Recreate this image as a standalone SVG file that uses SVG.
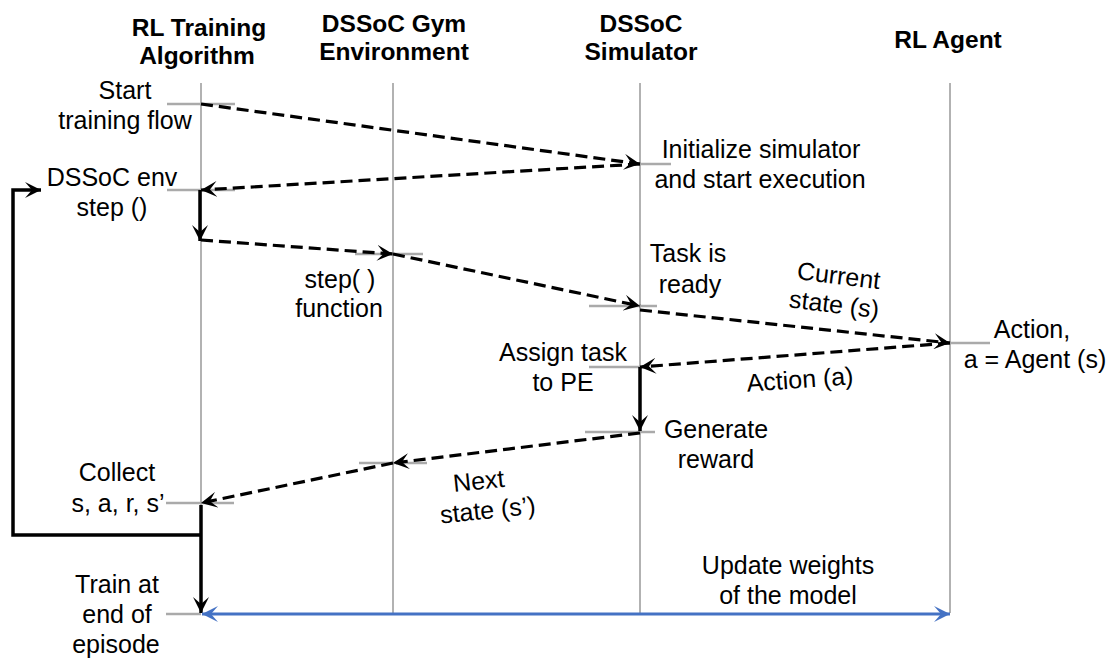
<svg xmlns="http://www.w3.org/2000/svg" width="1110" height="660" viewBox="0 0 1110 660">
<style>
text{font-family:"Liberation Sans",Arial,sans-serif;font-size:25px;fill:#000;text-anchor:middle}
.h{font-weight:bold;font-size:24.5px}
.life{stroke:#999;stroke-width:1.5;fill:none}
.tick{stroke:#aaa;stroke-width:2.5;fill:none}
.dash{stroke:#000;stroke-width:3.2;stroke-dasharray:12 6;fill:none;marker-end:url(#ah)}
.solid{stroke:#000;stroke-width:3.5;fill:none;marker-end:url(#ah)}
.blue{stroke:#4472C4;stroke-width:3;fill:none;marker-end:url(#bh);marker-start:url(#bh)}
</style>
<defs>
<marker id="ah" markerUnits="userSpaceOnUse" markerWidth="18" markerHeight="16" refX="16" refY="8" orient="auto" viewBox="0 0 18 16"><path d="M0,0 L16,8 L0,16 L7,8 z" fill="#000"/></marker>
<marker id="bh" markerUnits="userSpaceOnUse" markerWidth="18" markerHeight="16" refX="16" refY="8" orient="auto-start-reverse" viewBox="0 0 18 16"><path d="M0,0 L16,8 L0,16 L7,8 z" fill="#4472C4"/></marker>
</defs>
<g id="lifelines">
<line class="life" x1="201" y1="83" x2="201" y2="613"/>
<line class="life" x1="393" y1="83" x2="393" y2="613"/>
<line class="life" x1="640" y1="83" x2="640" y2="613"/>
<line class="life" x1="950" y1="83" x2="950" y2="613"/>
</g>
<g id="ticks">
<line class="tick" x1="167" y1="104" x2="235" y2="104"/>
<line class="tick" x1="640" y1="164" x2="671" y2="164"/>
<line class="tick" x1="167" y1="190" x2="235" y2="190"/>
<line class="tick" x1="355" y1="254" x2="423" y2="254"/>
<line class="tick" x1="589" y1="306" x2="657" y2="306"/>
<line class="tick" x1="950" y1="343" x2="990" y2="343"/>
<line class="tick" x1="589" y1="367" x2="640" y2="367"/>
<line class="tick" x1="585" y1="432" x2="655" y2="432"/>
<line class="tick" x1="359" y1="463" x2="427" y2="463"/>
<line class="tick" x1="166" y1="503" x2="234" y2="503"/>
<line class="tick" x1="166" y1="614" x2="201" y2="614"/>
</g>
<g id="connectors">
<line class="dash" x1="201" y1="104" x2="640" y2="164"/>
<line class="dash" x1="640" y1="164" x2="201" y2="190"/>
<line class="solid" x1="200" y1="190" x2="200" y2="241"/>
<line class="dash" x1="201" y1="240" x2="393" y2="254"/>
<line class="dash" x1="393" y1="254" x2="640" y2="306"/>
<line class="dash" x1="640" y1="310" x2="950" y2="343"/>
<line class="dash" x1="950" y1="343" x2="640" y2="367"/>
<line class="solid" x1="640" y1="367" x2="640" y2="431"/>
<line class="dash" x1="640" y1="433" x2="393" y2="463"/>
<line class="dash" x1="393" y1="463" x2="201" y2="503"/>
<line class="solid" x1="201" y1="505" x2="201" y2="613"/>
<path class="solid" d="M201,535 L13,535 L13,190 L41,190"/>
<line class="blue" x1="202" y1="614" x2="950" y2="614"/>
</g>
<g id="headers">
<text class="h" x="199" y="36">RL Training</text>
<text class="h" x="197" y="64">Algorithm</text>
<text class="h" x="394" y="32">DSSoC Gym</text>
<text class="h" x="394" y="60">Environment</text>
<text class="h" x="641" y="32">DSSoC</text>
<text class="h" x="641" y="60">Simulator</text>
<text class="h" x="948" y="48">RL Agent</text>
</g>
<g id="n-start"><text x="125" y="99">Start</text><text x="125" y="129">training flow</text></g>
<g id="n-init"><text x="761" y="158">Initialize simulator</text><text x="760" y="188">and start execution</text></g>
<g id="n-envstep"><text x="112" y="186">DSSoC env</text><text x="112" y="216">step ()</text></g>
<g id="n-stepfn"><text x="340" y="288">step( )</text><text x="339" y="317">function</text></g>
<g id="n-ready"><text x="688" y="262">Task is</text><text x="690" y="293">ready</text></g>
<g id="n-current" transform="rotate(7 836 298)"><text x="836" y="284">Current</text><text x="835" y="313">state (s)</text></g>
<g id="n-action"><text x="1032" y="338">Action,</text><text x="1035" y="368">a = Agent (s)</text></g>
<g id="n-assign"><text x="563" y="361">Assign task</text><text x="563" y="391">to PE</text></g>
<g id="n-actiona"><text x="800" y="388" transform="rotate(-4 800 380)">Action (a)</text></g>
<g id="n-reward"><text x="716" y="438">Generate</text><text x="716" y="468">reward</text></g>
<g id="n-next" transform="rotate(-6 484 503)"><text x="481" y="489">Next</text><text x="487" y="519">state (s’)</text></g>
<g id="n-collect"><text x="117" y="481">Collect</text><text x="118" y="512">s, a, r, s’</text></g>
<g id="n-train"><text x="117" y="593">Train at</text><text x="117" y="623">end of</text><text x="116" y="653">episode</text></g>
<g id="n-update"><text x="788" y="574">Update weights</text><text x="788" y="604">of the model</text></g>
</svg>
